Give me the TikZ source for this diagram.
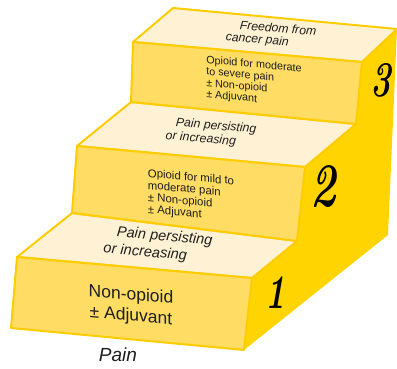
\documentclass[tikz,border=0pt]{standalone}
\usepackage{fontspec}
\setsansfont{Liberation Sans}

\definecolor{sidegold}{RGB}{255,212,0}
\definecolor{frontyellow}{RGB}{255,220,100}
\definecolor{topcream}{RGB}{255,241,211}
\definecolor{edgegold}{RGB}{255,204,0}
\definecolor{inkgray}{RGB}{30,30,30}

\begin{document}
\begin{tikzpicture}[x=1pt,y=-1pt]
            \tikzstyle{every node}+=[inner sep=0pt, text=inkgray]
            \tikzstyle{stepface}=[draw=edgegold, line width=2pt, line join=round]
            \tikzstyle{toplabel}=[align=left, rotate=-5, font=\sffamily\itshape]
            \tikzstyle{frontlabel}=[align=left, yslant=-0.09, font=\sffamily]
            \tikzstyle{stepnumber}=[text=black, xscale=0.7]
            \useasboundingbox (0,0) rectangle (397,368);
            % side of the stairs
            \fill [sidegold] (362,62) -- (397,29) -- (388,235) -- (244,350) -- (252,278)
                -- (297,241) -- (305,167) -- (356,124) -- cycle;
            % step 1
            \draw [stepface, fill=topcream] (17,257) -- (72,213) -- (297,241) -- (252,278) -- cycle;
            \draw [stepface, fill=frontyellow] (17,257) -- (252,278) -- (244,350) -- (11,328) -- cycle;
            % step 2
            \draw [stepface, fill=topcream] (77,146) -- (131,102) -- (356,124) -- (305,167) -- cycle;
            \draw [stepface, fill=frontyellow] (77,146) -- (305,167) -- (297,241) -- (72,213) -- cycle;
            % step 3
            \draw [stepface, fill=topcream] (133,42) -- (173,8) -- (397,29) -- (362,62) -- cycle;
            \draw [stepface, fill=frontyellow] (133,42) -- (362,62) -- (356,124) -- (131,102) -- cycle;
            % labels
            \node (top3) [toplabel, font=\sffamily\itshape\fontsize{12.2}{12.5}\selectfont] at (271,35)
                {\hspace*{13pt}Freedom from\\cancer pain};
            \node (front3) [frontlabel, font=\sffamily\fontsize{10.8}{11.5}\selectfont] at (254,82)
                {Opioid for moderate\\to severe pain\\± Non-opioid\\± Adjuvant};
            \node (top2) [toplabel, font=\sffamily\itshape\fontsize{12.3}{14}\selectfont] at (211,133)
                {\hspace*{9pt}Pain persisting\\or increasing};
            \node (front2) [frontlabel, font=\sffamily\fontsize{11.4}{12}\selectfont] at (191,196)
                {Opioid for mild to\\moderate pain\\± Non-opioid\\± Adjuvant};
            \node (top1) [toplabel, font=\sffamily\itshape\fontsize{14.6}{17.5}\selectfont] at (158,245)
                {\hspace*{12pt}Pain persisting\\or increasing};
            \node (front1) [align=center, yslant=-0.09, font=\sffamily\fontsize{17.5}{21}\selectfont] at (131,306)
                {Non-opioid\\± Adjuvant};
            \node (pain) [font=\sffamily\itshape\fontsize{19}{20}\selectfont] at (118,355) {Pain};
            % step numbers
            \node (num1) [stepnumber, font=\rmfamily\bfseries\itshape\fontsize{48}{48}\selectfont] at (275,293) {1};
            \node (num2) [stepnumber, font=\rmfamily\bfseries\itshape\fontsize{62}{62}\selectfont] at (323,187) {2};
            \node (num3) [stepnumber, font=\rmfamily\bfseries\itshape\fontsize{50}{50}\selectfont] at (381,80) {3};
        \end{tikzpicture}
\end{document}
